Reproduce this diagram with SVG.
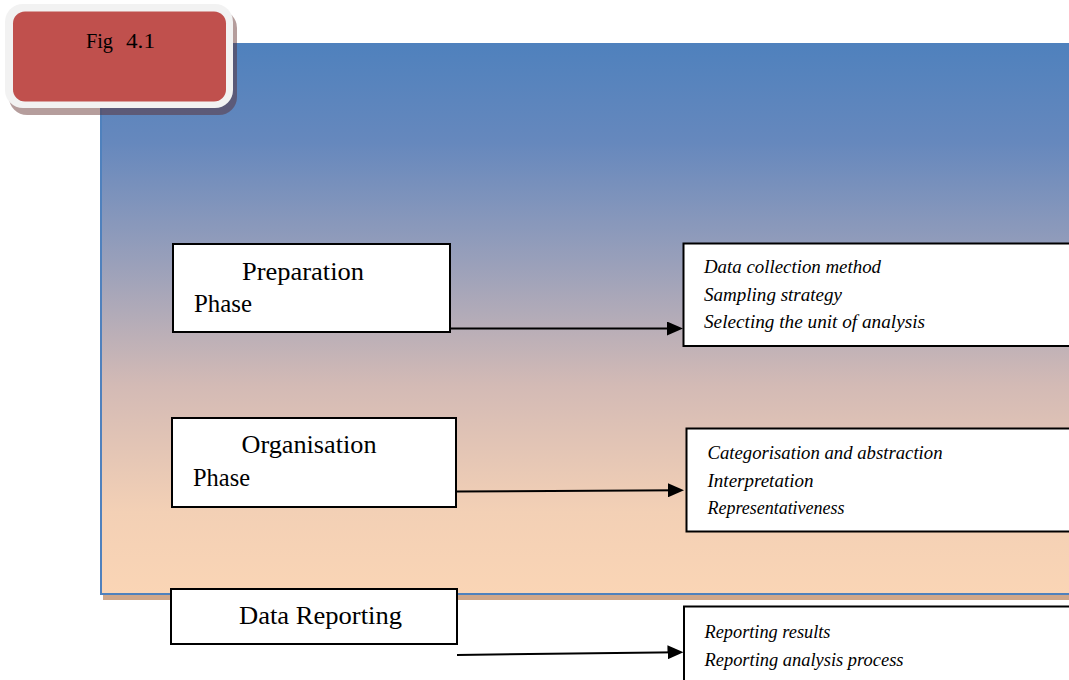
<svg xmlns="http://www.w3.org/2000/svg" width="1069" height="680" viewBox="0 0 1069 680">
  <style>
    .box { fill: #ffffff; stroke: #000000; stroke-width: 2; }
    .label { font-family: "Liberation Serif", "Times New Roman", serif; font-size: 26px; fill: #000000; }
    .item { font-family: "Liberation Serif", "Times New Roman", serif; font-size: 18px; font-style: italic; fill: #000000; }
    .badge-text { font-family: "Liberation Serif", "Times New Roman", serif; font-size: 22px; fill: #000000; }
    .conn { stroke: #000000; stroke-width: 2; fill: none; }
  </style>
  <defs>
    <linearGradient id="panelFill" x1="0" y1="0" x2="0" y2="1">
      <stop offset="0" stop-color="#4f81bd"/>
      <stop offset="0.18" stop-color="#6688bd"/>
      <stop offset="0.4" stop-color="#9aa0ba"/>
      <stop offset="0.62" stop-color="#d3bab5"/>
      <stop offset="0.85" stop-color="#f3d0b5"/>
      <stop offset="1" stop-color="#fad5b5"/>
    </linearGradient>
    <marker id="arrow" markerUnits="userSpaceOnUse" markerWidth="16" markerHeight="14" refX="12" refY="7" orient="auto">
      <path d="M0,0 L16,7 L0,14 Z" fill="#000000"/>
    </marker>
  </defs>

  <!-- background panel with drop shadow -->
  <g id="panel">
    <rect x="103" y="49" width="980" height="551" fill="#cfa78a"/>
    <rect x="101" y="44" width="980" height="550" fill="url(#panelFill)" stroke="#4f81bd" stroke-width="2"/>
  </g>

  <!-- figure badge -->
  <g id="badge">
    <rect x="9" y="10" width="228" height="105" rx="18" fill="#5c2624" fill-opacity="0.45"/>
    <rect x="5" y="4" width="228" height="104" rx="18" fill="#f2f2f2"/>
    <rect x="13" y="11.5" width="213" height="90" rx="12" fill="#c0504d"/>
    <text class="badge-text" x="86" y="48" textLength="27" lengthAdjust="spacingAndGlyphs">Fig</text>
    <text class="badge-text" x="126" y="48" textLength="29" lengthAdjust="spacingAndGlyphs">4.1</text>
  </g>

  <!-- phase boxes -->
  <g id="preparation">
    <rect class="box" x="173" y="244" width="277" height="88"/>
    <text class="label" x="242" y="280" textLength="122" lengthAdjust="spacingAndGlyphs">Preparation</text>
    <text class="label" x="194" y="312" textLength="58" lengthAdjust="spacingAndGlyphs">Phase</text>
  </g>
  <g id="organisation">
    <rect class="box" x="172" y="418" width="284" height="89"/>
    <text class="label" x="241.5" y="453" textLength="135" lengthAdjust="spacingAndGlyphs">Organisation</text>
    <text class="label" x="193" y="486" textLength="57" lengthAdjust="spacingAndGlyphs">Phase</text>
  </g>
  <g id="reporting">
    <rect class="box" x="171" y="589" width="286" height="55"/>
    <text class="label" x="239" y="624" textLength="163" lengthAdjust="spacingAndGlyphs">Data Reporting</text>
  </g>

  <!-- detail boxes -->
  <g id="preparation-details">
    <rect class="box" x="683.5" y="243.5" width="400" height="102.5"/>
    <text class="item" x="704" y="273" textLength="177" lengthAdjust="spacingAndGlyphs">Data collection method</text>
    <text class="item" x="704" y="300.5" textLength="138" lengthAdjust="spacingAndGlyphs">Sampling strategy</text>
    <text class="item" x="704" y="328" textLength="221" lengthAdjust="spacingAndGlyphs">Selecting the unit of analysis</text>
  </g>
  <g id="organisation-details">
    <rect class="box" x="686.5" y="428.5" width="400" height="103"/>
    <text class="item" x="707.5" y="459" textLength="235" lengthAdjust="spacingAndGlyphs">Categorisation and abstraction</text>
    <text class="item" x="707.5" y="486.5" textLength="106" lengthAdjust="spacingAndGlyphs">Interpretation</text>
    <text class="item" x="707.5" y="514" textLength="137" lengthAdjust="spacingAndGlyphs">Representativeness</text>
  </g>
  <g id="reporting-details">
    <rect class="box" x="684" y="606.5" width="400" height="100"/>
    <text class="item" x="704.5" y="637.5" textLength="126" lengthAdjust="spacingAndGlyphs">Reporting results</text>
    <text class="item" x="704.5" y="665.5" textLength="199" lengthAdjust="spacingAndGlyphs">Reporting analysis process</text>
  </g>

  <!-- connectors -->
  <g id="connectors">
    <line class="conn" x1="450" y1="328.5" x2="679" y2="328.5" marker-end="url(#arrow)"/>
    <line class="conn" x1="457" y1="491.5" x2="680" y2="490.2" marker-end="url(#arrow)"/>
    <line class="conn" x1="457" y1="655" x2="679.5" y2="652.2" marker-end="url(#arrow)"/>
  </g>
</svg>
